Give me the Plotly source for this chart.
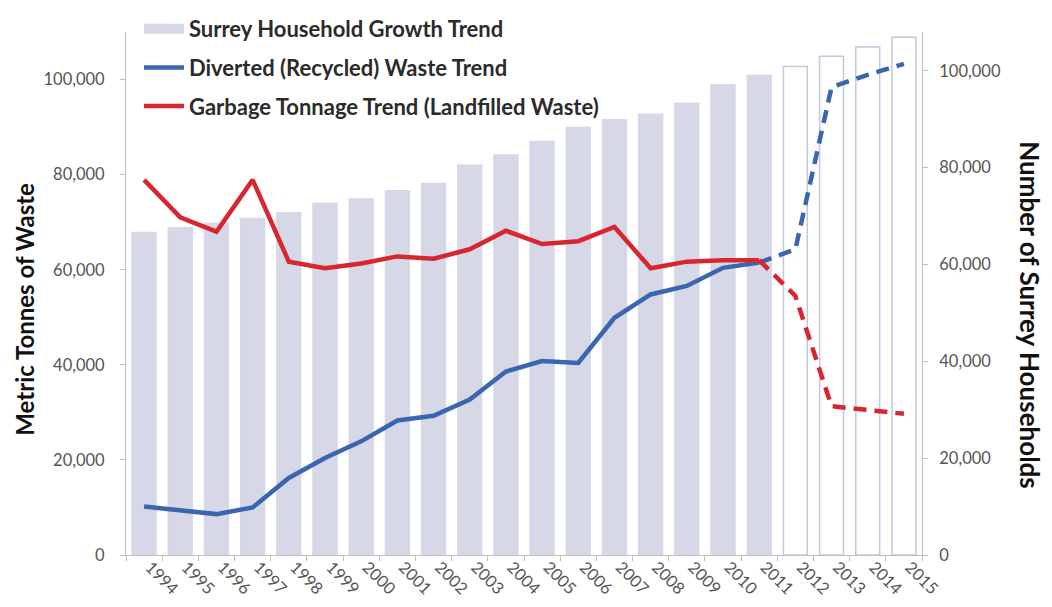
import plotly.graph_objects as go

years = [str(y) for y in range(1994, 2016)]
households = [66600, 67600, 68500, 69500, 70700, 72600, 73500, 75200, 76700, 80500,
              82600, 85400, 88300, 89900, 91000, 93300, 97100, 99000,
              100900, 103000, 104900, 106900]
projected_from = "2012"

diverted_actual = [10200, 9300, 8600, 10000, 16200, 20400, 23900, 28300, 29300, 32700,
                   38600, 40800, 40400, 49900, 54800, 56600, 60400, 61500]
diverted_proj = [61500, 64300, 98400, 101000, 103300]

garbage_actual = [78900, 71000, 68000, 78900, 61700, 60300, 61300, 62800, 62300, 64300,
                  68200, 65400, 66000, 69000, 60300, 61700, 62000, 62000]
garbage_proj = [62000, 54500, 31300, 30400, 29700]

years_actual = years[:18]
years_proj = years[17:]

BLUE = "#3a66b0"
RED = "#d8262f"
BAR = "#d6d7e7"
BAR_EDGE = "#c3c8dc"
FONT = "Lato"

proj_idx = years.index(projected_from)
bar_colors = [BAR if i < proj_idx else "white" for i in range(len(years))]
bar_lines = [BAR if i < proj_idx else BAR_EDGE for i in range(len(years))]

fig = go.Figure()
fig.add_trace(go.Bar(
    x=years, y=households, name="Surrey Household Growth Trend", showlegend=False,
    marker=dict(color=bar_colors, line=dict(color=bar_lines, width=1.5)),
    yaxis="y"))
# legend-only entry so the bar key is drawn as a wide swatch
fig.add_trace(go.Scatter(
    x=[None], y=[None], name="Surrey Household Growth Trend", mode="lines",
    line=dict(color=BAR, width=12), yaxis="y", legendgroup="a"))
fig.add_trace(go.Scatter(
    x=years_actual, y=diverted_actual, name="Diverted (Recycled) Waste Trend",
    mode="lines", line=dict(color=BLUE, width=4.5), yaxis="y2", legendgroup="b"))
fig.add_trace(go.Scatter(
    x=years_actual, y=garbage_actual, name="Garbage Tonnage Trend (Landfilled Waste)",
    mode="lines", line=dict(color=RED, width=4.5), yaxis="y2", legendgroup="c"))
fig.add_trace(go.Scatter(
    x=years_proj, y=diverted_proj, mode="lines", showlegend=False,
    line=dict(color=BLUE, width=4.5, dash="13px,8px"), yaxis="y2"))
fig.add_trace(go.Scatter(
    x=years_proj, y=garbage_proj, mode="lines", showlegend=False,
    line=dict(color=RED, width=4.5, dash="13px,8px"), yaxis="y2"))

axis_common = dict(showgrid=False, zeroline=False, showline=True, linecolor="#c0c0c0",
                   linewidth=1, ticks="outside", ticklen=5, tickcolor="#c0c0c0",
                   automargin=False,
                   tickfont=dict(family=FONT, size=16.5, color="#555555"))

W, H = 1044, 599          # page body adds an 8px offset
TOP = (547 - 24) / 547

fig.update_layout(
    width=W, height=H,
    margin=dict(l=118, r=130, t=0, b=52),
    paper_bgcolor="white", plot_bgcolor="white",
    bargap=0.34,
    font=dict(family=FONT),
    xaxis=dict(type="category", tickangle=45, tickson="boundaries",
               ticklabelshift=6, ticklabelstandoff=-5, **axis_common),
    yaxis=dict(side="right", range=[0, 108000], tickformat=",", dtick=20000,
               domain=[0, TOP], ticklabelstandoff=8, **axis_common),
    yaxis2=dict(side="left", overlaying="y", range=[0, 110000], tickformat=",",
                dtick=20000, ticklabelstandoff=12, **axis_common),
    legend=dict(x=0.0163, y=1.0, xanchor="left", yanchor="top", bgcolor="rgba(0,0,0,0)",
                font=dict(family=FONT, size=22, color="#2b2b2b", weight="bold"),
                tracegroupgap=7, itemwidth=40),
    showlegend=True,
    annotations=[
        dict(text="<b>Metric Tonnes of Waste</b>", xref="paper", yref="paper",
             x=-0.127, y=0.45, textangle=-90, showarrow=False,
             font=dict(family=FONT, size=24, color="#111111"), xanchor="center", yanchor="middle"),
        dict(text="<b>Number of Surrey Households</b>", xref="paper", yref="paper",
             x=1.1357, y=0.44, textangle=90, showarrow=False,
             font=dict(family=FONT, size=26, color="#111111"), xanchor="center", yanchor="middle"),
    ],
)

fig.write_html("out.html")
